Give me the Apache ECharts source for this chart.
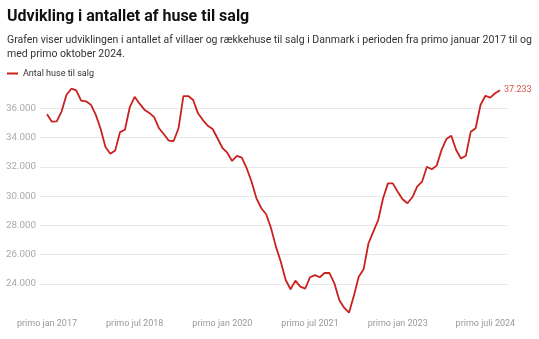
<!DOCTYPE html>
<html>
<head>
<meta charset="utf-8">
<script src="https://cdn.jsdelivr.net/npm/echarts@6/dist/echarts.min.js"></script>
<style>
html,body{margin:0;padding:0;background:#fff;}
#chart{width:539px;height:339px;}
</style>
</head>
<body>
<div id="chart"></div>
<script>
const seriesName = 'Antal huse til salg';
const tickMonths = [0, 18, 36, 54, 72, 90];
const tickLabels = ['primo jan 2017', 'primo jul 2018', 'primo jan 2020', 'primo jul 2021', 'primo jan 2023', 'primo juli 2024'];
const values = [
  35580, 35080, 35100, 35790, 36920, 37330, 37220, 36510, 36470, 36240, 35560, 34600,
  33350, 32890, 33120, 34370, 34530, 36080, 36780, 36310, 35900, 35680, 35390, 34630,
  34220, 33780, 33760, 34630, 36830, 36830, 36560, 35650, 35190, 34800, 34580, 33950,
  33300, 32960, 32400, 32740, 32620, 31900, 30980, 29850, 29170, 28760, 27800, 26550,
  25520, 24270, 23640, 24230, 23820, 23680, 24460, 24610, 24460, 24750, 24750, 24050,
  22910, 22380, 22040, 23200, 24500, 25000, 26780, 27570, 28370, 29850, 30870, 30870,
  30300, 29780, 29510, 29920, 30640, 30980, 32000, 31830, 32080, 33150, 33890, 34120,
  33150, 32560, 32760, 34400, 34630, 36220, 36850, 36720, 37020, 37233
];

function fmt(v) {
  return (v / 1000).toFixed(3);
}

const chart = echarts.init(document.getElementById('chart'));
const option = {
  animation: false,
  textStyle: { fontFamily: 'Roboto' },
  title: {
    text: 'Udvikling i antallet af huse til salg',
    subtext: 'Grafen viser udviklingen i antallet af villaer og rækkehuse til salg i Danmark i perioden fra primo januar 2017 til og\nmed primo oktober 2024.',
    left: 7,
    top: 9,
    padding: 0,
    itemGap: 8.5,
    textStyle: { fontSize: 16, fontWeight: 'bold', color: '#111', fontFamily: 'Roboto' },
    subtextStyle: { fontSize: 10.5, color: '#333', lineHeight: 14, fontFamily: 'Roboto' }
  },
  legend: {
    left: 7,
    top: 69,
    padding: 0,
    icon: 'rect',
    itemWidth: 11,
    itemHeight: 2,
    textStyle: { fontSize: 9, color: '#333' },
    data: [seriesName]
  },
  grid: { left: 40, right: 32, top: 78.9, bottom: 25.7 },
  xAxis: {
    type: 'value',
    min: -1.44,
    max: 94.44,
    splitLine: { show: false },
    axisLine: { show: false },
    axisTick: { show: false },
    axisLabel: {
      customValues: tickMonths,
      formatter: function (v) { const k = tickMonths.indexOf(v); return k >= 0 ? tickLabels[k] : ''; },
      color: '#999',
      fontSize: 9,
      margin: 6
    }
  },
  yAxis: {
    type: 'value',
    min: 22000,
    max: 38000,
    interval: 2000,
    axisLine: { show: false },
    axisTick: { show: false },
    axisLabel: {
      showMinLabel: false,
      showMaxLabel: false,
      formatter: fmt,
      color: '#aaa',
      fontSize: 9.8,
      margin: 4
    },
    splitLine: { showMinLine: false, showMaxLine: false, lineStyle: { color: '#e8e8e8', width: 1 } }
  },
  series: [{
    type: 'line',
    name: seriesName,
    data: values.map((v, i) => [i, v]),
    showSymbol: false,
    symbol: 'none',
    lineStyle: { color: '#c9211e', width: 1.8 },
    itemStyle: { color: '#c9211e' },
    endLabel: {
      show: true,
      formatter: function (p) { return fmt(p.value[1]); },
      color: '#d9534f',
      fontSize: 9,
      distance: 4
    }
  }]
};
chart.setOption(option);
</script>
</body>
</html>
